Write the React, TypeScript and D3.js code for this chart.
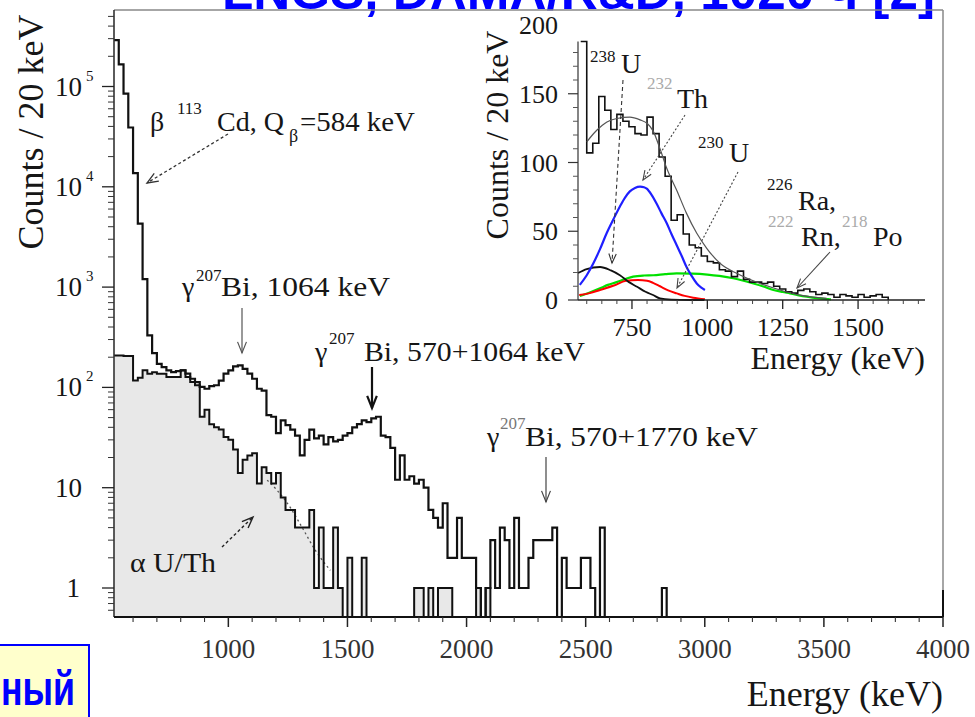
import React from 'react';
import * as d3 from 'd3';

// ---- main spectrum: counts per 20 keV bin, first bin starts at 520 keV ----
const BIN_KEV = 20;
const MAIN_START_KEV = 520;

const totalCounts = [
  290000, 166000, 85000, 39000, 13700, 4300, 1200, 330, 220, 172,
  159, 148, 142, 145, 148, 137, 122, 113, 101, 97,
  103, 105, 117, 137, 148, 162, 166, 153, 137, 122,
  97, 93, 53, 51, 35, 47, 42, 38, 33, 21,
  30, 38, 31, 33, 27, 32, 29, 30, 33, 35,
  40, 43, 47, 45, 49, 51, 33, 32, 25, 12,
  21, 12, 13, 11, 12, 10, 6, 5, 4, 7,
  2, 2, 5, 2, 2, 2, 1, 0, 1, 3,
  1, 4, 3, 1, 5, 1, 1, 2, 3, 3,
  3, 3, 4, 0, 2, 1, 1, 1, 2, 2,
  1, 0, 4, 0, 0, 0, 0, 0, 0, 0,
  0, 0, 0, 0, 0, 1,
];

const alphaCounts = [
  208, 208, 206, 206, 117, 125, 148, 137, 142, 137,
  137, 127, 127, 127, 148, 127, 113, 105, 51, 60,
  43, 40, 38, 32, 30, 24, 14, 19, 21, 22,
  11, 16, 14, 11, 14, 8, 6, 6, 4, 4,
  4, 6, 1, 4, 1, 1, 4, 1, 0, 2,
  0, 0, 2, 0, 0, 0, 0, 0, 0, 0,
  0, 0, 0, 1, 1, 0, 1, 0, 1, 1,
  1, 0, 0, 0, 0, 0, 1, 0, 1,
];

// smooth alpha model visible below the histogram [keV, counts]
const alphaFit: [number, number][] = [
  [1163, 11.9], [1205, 9.4], [1259, 6.4], [1310, 4.0], [1364, 2.4], [1428, 1.5],
];

const mainXTicks = [1000, 1500, 2000, 2500, 3000, 3500, 4000];
const mainYDecades = [1, 10, 100, 1000, 10000, 100000];

// ---- inset: alpha region, counts per 20 keV from 580 keV ----
const INSET_START_KEV = 580;
const insetCounts = [
  188, 107, 114, 148, 138, 124, 135, 130, 126, 121,
  120, 133, 121, 104, 90, 58, 62, 48, 40, 38,
  32, 28, 27, 22, 21, 17, 21, 15, 13, 13,
  12, 13, 10, 8, 6, 5, 7, 8, 6, 4,
  5, 4, 2, 4, 3, 2, 4, 2, 3, 4,
  2,
];

const insetTotalFit: [number, number][] = [
  [600, 115], [611, 118], [634, 123.6], [667, 129.5], [700, 132], [743, 133],
  [777, 131], [800, 128.5], [820, 123], [843, 110], [865, 96], [898, 80],
  [931, 63], [965, 48.5], [998, 37.6], [1042, 26.7], [1097, 19.4], [1175, 12],
  [1241, 7.3], [1307, 3.6], [1396, 1.2],
];
const insetBlack: [number, number][] = [
  [571, 19.6], [600, 22.5], [644, 24], [680, 21.5], [710, 18], [740, 13],
  [767, 9.6], [795, 6], [820, 3.6], [843, 1.2], [880, 0.3], [942, 0], [990, 0],
];
const insetRed: [number, number][] = [
  [575, 3.6], [610, 5], [644, 7.3], [690, 10.5], [730, 14], [770, 14.5],
  [800, 14], [820, 12.5], [843, 10], [870, 7], [899, 4.8], [925, 3],
  [953, 1.7], [992, 0.5],
];
const insetBlue: [number, number][] = [
  [577, 11], [600, 18], [622, 26.7], [644, 37], [666, 48.5], [688, 58.5],
  [710, 68], [727, 74.5], [743, 79], [760, 81.5], [777, 82.4], [790, 82],
  [799, 81], [815, 76.5], [832, 70], [848, 63], [865, 56], [881, 48],
  [898, 40], [915, 32], [931, 24], [948, 17.5], [965, 12], [980, 9], [992, 7.3],
];
const insetGreen: [number, number][] = [
  [577, 2.9], [610, 5.5], [644, 8.5], [670, 11], [699, 13], [725, 15],
  [754, 17], [790, 17.8], [821, 18], [860, 18.8], [898, 19.4], [950, 19.2],
  [1000, 18.5], [1040, 17.5], [1086, 15.8], [1120, 14], [1153, 12], [1186, 9.8],
  [1219, 7.3], [1250, 5.8], [1274, 4.8], [1300, 3.6], [1330, 2.4], [1365, 1.3],
  [1396, 0.7], [1410, 0.5],
];

const insetXTicks = [750, 1000, 1250, 1500];
const insetYTicks = [0, 50, 100, 150, 200];

const SERIF = '"Liberation Serif", "Times New Roman", serif';
const SANS = '"Liberation Sans", Arial, sans-serif';
const INK = '#161616';

function stepPath(
  counts: number[], startKev: number,
  x: (v: number) => number, y: (v: number) => number, floor: number,
): string {
  let d = '';
  counts.forEach((c, i) => {
    const x0 = x(startKev + i * BIN_KEV);
    const x1 = x(startKev + (i + 1) * BIN_KEV);
    const yy = c > 0 ? y(c) : floor;
    d += (i === 0 ? `M${x0},${yy}` : `V${yy}`) + `H${x1}`;
  });
  return d + `V${floor}`;
}

function stepArea(
  counts: number[], startKev: number,
  x: (v: number) => number, y: (v: number) => number, floor: number,
): string {
  let d = `M${x(startKev)},${floor}`;
  counts.forEach((c, i) => {
    const x0 = x(startKev + i * BIN_KEV);
    const x1 = x(startKev + (i + 1) * BIN_KEV);
    const yy = c > 0 ? y(c) : floor;
    d += `H${x0}V${yy}H${x1}V${floor}`;
  });
  return d + 'Z';
}

function arrowHead(x1: number, y1: number, x2: number, y2: number, len = 12, spread = 0.38) {
  const a = Math.atan2(y2 - y1, x2 - x1);
  const ax = x2 - len * Math.cos(a - spread), ay = y2 - len * Math.sin(a - spread);
  const bx = x2 - len * Math.cos(a + spread), by = y2 - len * Math.sin(a + spread);
  return `M${ax},${ay}L${x2},${y2}L${bx},${by}`;
}

type ArrowProps = {
  x1: number; y1: number; x2: number; y2: number;
  width?: number; dash?: string; color?: string; head?: number;
};
function Arrow({ x1, y1, x2, y2, width = 1.3, dash, color = '#333', head = 12 }: ArrowProps) {
  return (
    <g fill="none" stroke={color} strokeWidth={width}>
      <line x1={x1} y1={y1} x2={x2} y2={y2} strokeDasharray={dash} />
      <path d={arrowHead(x1, y1, x2, y2, head)} />
    </g>
  );
}

type TProps = {
  x: number; y: number; size: number; children: React.ReactNode;
  fill?: string; anchor?: string; len?: number;
};
function T({ x, y, size, children, fill = INK, anchor = 'start', len }: TProps) {
  return (
    <text x={x} y={y} fontSize={size} fill={fill} textAnchor={anchor as any} fontFamily={SERIF}
      textLength={len} lengthAdjust={len ? 'spacingAndGlyphs' : undefined}>
      {children}
    </text>
  );
}

export default function App() {
  // main axes
  const x = d3.scaleLinear().domain([MAIN_START_KEV, 4000]).range([114, 943]);
  const y = d3.scaleLog().domain([1, 1e5]).range([588, 86.5]);
  const left = 114, right = 943, top = 10, floor = 617;

  const yMinor: number[] = [];
  for (let e = -1; e <= 5; e++) {
    for (let m = 2; m <= 9; m++) {
      const py = y(m * Math.pow(10, e));
      if (py >= top && py <= floor) yMinor.push(py);
    }
  }
  const xMinor: number[] = [];
  for (let k = 600; k < 4000; k += 100) if (k % 500 !== 0) xMinor.push(k);

  // inset axes
  const xi = d3.scaleLinear().domain([571, 1722]).range([578, 925]);
  const yi = d3.scaleLinear().domain([0, 200]).range([300, 25]);
  const iLeft = 578, iRight = 925, iBottom = yi(0), iTop = yi(188);
  const iMinorX: number[] = [];
  for (let k = 600; k <= 1700; k += 50) if (k % 250 !== 0) iMinorX.push(k);
  const iMinorY: number[] = [];
  for (let k = 10; k <= 180; k += 10) if (k % 50 !== 0) iMinorY.push(k);

  const curveLine = d3.line<[number, number]>()
    .x(d => xi(d[0])).y(d => yi(d[1])).curve(d3.curveMonotoneX);
  const fitLine = d3.line<[number, number]>()
    .x(d => x(d[0])).y(d => y(d[1])).curve(d3.curveMonotoneX);

  return (
    <svg width={975} height={717} viewBox="0 0 975 717"
      style={{ position: 'absolute', left: 0, top: 0, background: '#fff' }}>
      <rect x={0} y={0} width={975} height={717} fill="#fff" />

      {/* slide heading, cut by the top edge */}
      <text x={222} y={9} fontFamily={SANS} fontWeight="bold" fontSize={50} fill="#0000ff"
        textLength={713} lengthAdjust="spacingAndGlyphs">LNGS, DAMA/R&amp;D, 1020 ч [2]</text>

      {/* ---------- main spectrum ---------- */}
      <path d={stepArea(alphaCounts, MAIN_START_KEV, x, y, floor)} fill="#e8e8e8" stroke="none" />
      <path d={fitLine(alphaFit) || ''} fill="none" stroke="#555" strokeWidth={1.3} strokeDasharray="2,3" />
      <path d={stepPath(alphaCounts, MAIN_START_KEV, x, y, floor)} fill="none" stroke="#111" strokeWidth={2} />
      <path d={stepPath(totalCounts, MAIN_START_KEV, x, y, floor)} fill="none" stroke="#111" strokeWidth={2.2} />

      {/* frame */}
      <line x1={left} y1={top} x2={right} y2={top} stroke="#888" strokeWidth={1.5} />
      <line x1={right} y1={top} x2={right} y2={590} stroke="#888" strokeWidth={1.5} />
      <line x1={right} y1={590} x2={right} y2={floor} stroke="#111" strokeWidth={2} />
      <line x1={left} y1={top} x2={left} y2={floor} stroke="#333" strokeWidth={1.6} />
      <line x1={left} y1={floor} x2={right} y2={floor} stroke="#111" strokeWidth={2} />

      {/* y ticks */}
      {mainYDecades.map(v => (
        <line key={'yd' + v} x1={left - 12} x2={left} y1={y(v)} y2={y(v)} stroke="#222" strokeWidth={1.3} />
      ))}
      {yMinor.map((py, i) => (
        <line key={'ym' + i} x1={left - 6} x2={left} y1={py} y2={py} stroke="#333" strokeWidth={1} />
      ))}
      {mainYDecades.map(v => {
        const e = Math.round(Math.log10(v));
        const py = y(v);
        if (e === 0) return <T key={'yl' + v} x={80} y={py + 9} size={27} anchor="end">1</T>;
        if (e === 1) return <T key={'yl' + v} x={82} y={py + 9} size={27} anchor="end">10</T>;
        return (
          <g key={'yl' + v}>
            <T x={82} y={py + 9} size={27} anchor="end">10</T>
            <T x={86} y={py - 6} size={15}>{String(e)}</T>
          </g>
        );
      })}

      {/* x ticks */}
      {xMinor.map(k => (
        <line key={'xm' + k} x1={x(k)} x2={x(k)} y1={floor} y2={floor + 5} stroke="#333" strokeWidth={1.1} />
      ))}
      {mainXTicks.map(k => (
        <g key={'xt' + k}>
          <line x1={x(k)} x2={x(k)} y1={floor} y2={floor + 10} stroke="#222" strokeWidth={1.5} />
          <T x={x(k)} y={658} size={27} anchor="middle" fill="#333">{String(k)}</T>
        </g>
      ))}

      {/* axis titles */}
      <text transform="translate(43,132) rotate(-90)" textAnchor="middle" fontFamily={SERIF}
        fontSize={36} fill={INK}>Counts / 20 keV</text>
      <T x={943} y={706} size={36} anchor="end">Energy (keV)</T>

      {/* annotations */}
      <T x={150} y={131} size={28}>β</T>
      <T x={177} y={114} size={17}>113</T>
      <T x={217} y={131} size={28}>Cd, Q</T>
      <T x={289} y={142} size={18}>β</T>
      <T x={300} y={131} size={28} len={115}>=584 keV</T>
      <Arrow x1={228} y1={134} x2={147} y2={183} dash="3,2.5" width={1.3} />

      <T x={182} y={296} size={28}>γ</T>
      <T x={196} y={281} size={17}>207</T>
      <T x={221} y={296} size={28} len={169}>Bi, 1064 keV</T>
      <Arrow x1={242} y1={308} x2={242} y2={353} width={1.2} color="#555" />

      <T x={315} y={361} size={28}>γ</T>
      <T x={329} y={344} size={17}>207</T>
      <T x={364} y={361} size={28} len={221}>Bi, 570+1064 keV</T>
      <Arrow x1={372} y1={367} x2={372} y2={408} width={2.2} color="#111" head={13} />

      <T x={487} y={446} size={28}>γ</T>
      <T x={500} y={429} size={17} fill="#777">207</T>
      <T x={525} y={446} size={28} len={233}>Bi, 570+1770 keV</T>
      <Arrow x1={546} y1={457} x2={546} y2={502} width={1.2} color="#444" />

      <T x={130} y={572} size={28} len={86}>α U/Th</T>
      <Arrow x1={222} y1={547} x2={253} y2={517} dash="3,2.5" width={1.4} color="#222" />

      {/* ---------- inset ---------- */}
      <path d={curveLine(insetGreen) || ''} fill="none" stroke="#00e000" strokeWidth={2.2} />
      <path d={curveLine(insetRed) || ''} fill="none" stroke="#ff0000" strokeWidth={2} />
      <path d={curveLine(insetBlack) || ''} fill="none" stroke="#111" strokeWidth={1.8} />
      <path d={curveLine(insetBlue) || ''} fill="none" stroke="#1f1fff" strokeWidth={2.2} />
      <path d={stepPath(insetCounts, INSET_START_KEV, xi, yi, iBottom)} fill="none" stroke="#111" strokeWidth={1.6} />
      <path d={curveLine(insetTotalFit) || ''} fill="none" stroke="#555" strokeWidth={1.2} />

      <line x1={iLeft} y1={iTop} x2={iLeft} y2={iBottom} stroke="#333" strokeWidth={1.2} />
      <line x1={iLeft} y1={iBottom} x2={iRight} y2={iBottom} stroke="#222" strokeWidth={1.6} />
      {insetYTicks.filter(v => v <= 188).map(v => (
        <line key={'iyt' + v} x1={iLeft - 10} x2={iLeft} y1={yi(v)} y2={yi(v)} stroke="#333" strokeWidth={1.2} />
      ))}
      {iMinorY.map(v => (
        <line key={'iym' + v} x1={iLeft - 5} x2={iLeft} y1={yi(v)} y2={yi(v)} stroke="#555" strokeWidth={1} />
      ))}
      {insetYTicks.map(v => (
        <T key={'iyl' + v} x={558} y={yi(v) + 9} size={26} anchor="end">{String(v)}</T>
      ))}
      {iMinorX.map(k => (
        <line key={'ixm' + k} x1={xi(k)} x2={xi(k)} y1={iBottom} y2={iBottom + 4} stroke="#444" strokeWidth={1} />
      ))}
      {insetXTicks.map(k => (
        <g key={'ixt' + k}>
          <line x1={xi(k)} x2={xi(k)} y1={iBottom} y2={iBottom + 9} stroke="#222" strokeWidth={1.3} />
          <T x={xi(k)} y={336} size={26} anchor="middle">{String(k)}</T>
        </g>
      ))}
      <text transform="translate(508,135) rotate(-90)" textAnchor="middle" fontFamily={SERIF}
        fontSize={32} fill={INK}>Counts / 20 keV</text>
      <T x={925} y={369} size={32} anchor="end">Energy (keV)</T>

      {/* inset labels */}
      <T x={590} y={62} size={17}>238</T>
      <T x={621} y={73} size={28}>U</T>
      <Arrow x1={623} y1={80} x2={612} y2={263} dash="4,3" width={1.1} color="#333" head={10} />

      <T x={647} y={89} size={17} fill="#aaa">232</T>
      <T x={677} y={108} size={28}>Th</T>
      <Arrow x1={685} y1={115} x2={643} y2={180} dash="2,2" width={1.1} color="#444" head={10} />

      <T x={698} y={148} size={17}>230</T>
      <T x={729} y={162} size={28}>U</T>
      <Arrow x1={738} y1={172} x2={677} y2={288} dash="2,2" width={1.1} color="#444" head={10} />

      <T x={767} y={190} size={17}>226</T>
      <T x={798} y={210} size={28}>Ra,</T>
      <T x={768} y={227} size={17} fill="#aaa">222</T>
      <T x={801} y={246} size={28}>Rn,</T>
      <T x={842} y={227} size={17} fill="#aaa">218</T>
      <T x={873} y={246} size={28}>Po</T>
      <Arrow x1={830} y1={252} x2={797} y2={288} width={1.1} color="#444" head={10} />

      {/* slide caption box, cut by the left edge */}
      <rect x={-4} y={645} width={93} height={80} fill="#ffffcc" stroke="#0000ff" strokeWidth={2} />
      <text x={1} y={705} fontFamily={SANS} fontWeight="bold" fontSize={48} fill="#0000ff"
        textLength={74} lengthAdjust="spacingAndGlyphs">ный</text>
    </svg>
  );
}
